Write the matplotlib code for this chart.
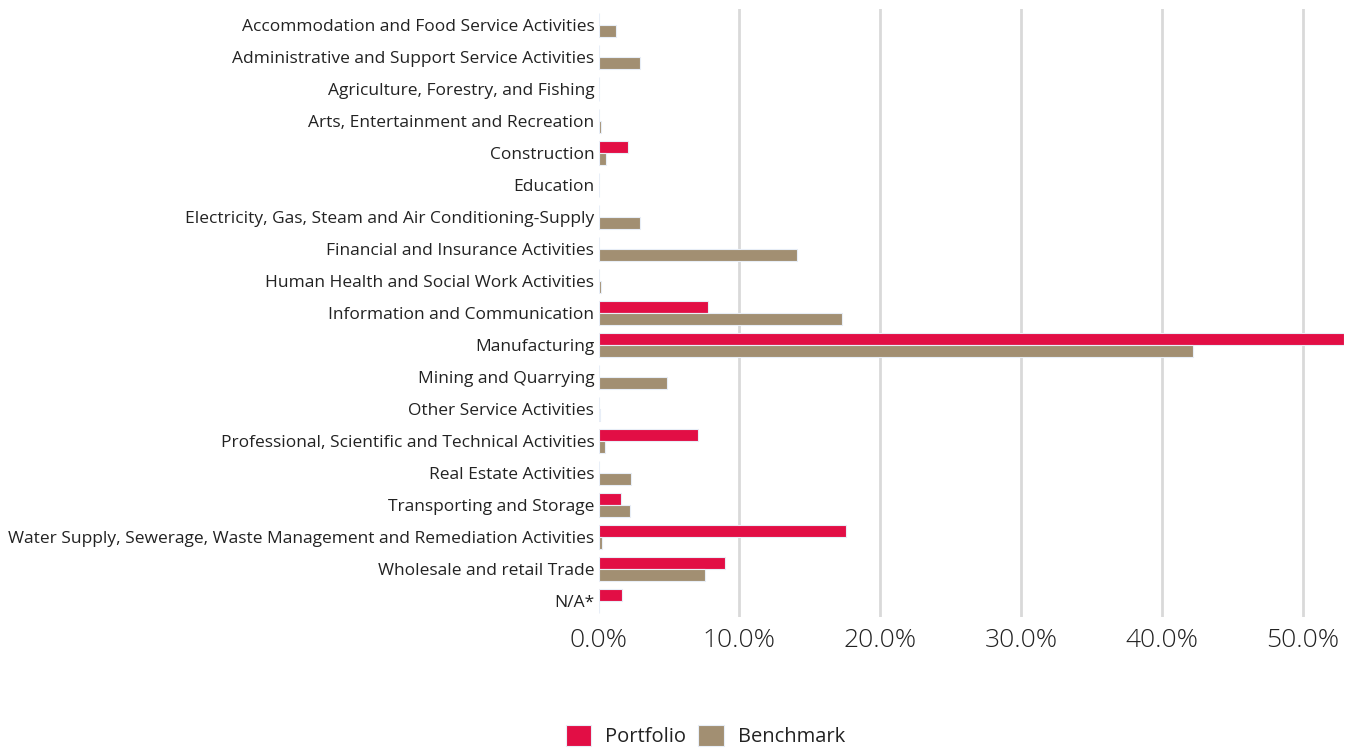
import matplotlib
matplotlib.use("Agg")
import matplotlib.pyplot as plt
import numpy as np
from matplotlib.ticker import FuncFormatter

categories = [
    "Accommodation and Food Service Activities",
    "Administrative and Support Service Activities",
    "Agriculture, Forestry, and Fishing",
    "Arts, Entertainment and Recreation",
    "Construction",
    "Education",
    "Electricity, Gas, Steam and Air Conditioning-Supply",
    "Financial and Insurance Activities",
    "Human Health and Social Work Activities",
    "Information and Communication",
    "Manufacturing",
    "Mining and Quarrying",
    "Other Service Activities",
    "Professional, Scientific and Technical Activities",
    "Real Estate Activities",
    "Transporting and Storage",
    "Water Supply, Sewerage, Waste Management and Remediation Activities",
    "Wholesale and retail Trade",
    "N/A*",
]
portfolio = [0, 0, 0, 0, 2.1, 0, 0, 0, 0, 7.8, 52.9, 0, 0, 7.05, 0, 1.6, 17.55, 8.95, 1.7]
benchmark = [1.25, 2.95, 0.02, 0.15, 0.5, 0.0, 2.95, 14.1, 0.2, 17.25, 42.15, 4.85, 0.1, 0.45, 2.3, 2.2, 0.28, 7.55, 0]
series_names = ["Portfolio", "Benchmark"]
xticks = [0, 10, 20, 30, 40, 50]

plt.rcParams['font.family'] = ['Open Sans', 'DejaVu Sans']

fig = plt.figure(figsize=(13.49, 7.52), dpi=100)
ax = fig.add_axes([598.5 / 1349, 1 - 617 / 752, (1344 - 598.5) / 1349, (617 - 9) / 752])

y = np.arange(len(categories))
h = 0.37
off = 0.2
red = "#E20E45"
tan = "#A28F72"
ax.barh(y - off, portfolio, height=h, color=red, edgecolor="#e8eef7", linewidth=0.8, label=series_names[0], zorder=3)
ax.barh(y + off, benchmark, height=h, color=tan, edgecolor="#e8eef7", linewidth=0.8, label=series_names[1], zorder=3)

ax.set_ylim(len(categories) - 0.5, -0.5)
ax.set_xlim(0, 52.9)
ax.set_xticks(xticks)
ax.xaxis.set_major_formatter(FuncFormatter(lambda v, p: f"{v:.1f}%"))
ax.set_yticks(y)
ax.set_yticklabels(categories, fontsize=12.5, color="#222222")
for lbl in ax.get_xticklabels():
    lbl.set_fontweight("light")
ax.tick_params(axis='x', labelsize=19, colors="#222222", length=0, pad=8)
ax.tick_params(axis='y', length=0, pad=3)
for s in ax.spines.values():
    s.set_visible(False)
ax.grid(axis='x', color="#d9d9d9", linewidth=2, zorder=0)
ax.set_axisbelow(True)
gl = ax.get_xgridlines()
gl[0].set_visible(False)

leg = fig.legend(loc="center", bbox_to_anchor=(0.523, 1 - 736 / 752), ncol=2, frameon=False,
                 prop={'size': 14.5}, handlelength=1.25, handleheight=1.25,
                 handletextpad=0.7, columnspacing=0.6)
for t in leg.get_texts():
    t.set_color("#222222")

fig.savefig("out.png", dpi=100)
